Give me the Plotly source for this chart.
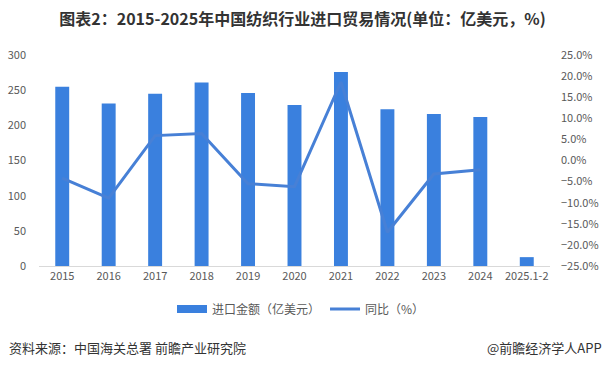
import plotly.graph_objects as go

categories = ["2015", "2016", "2017", "2018", "2019", "2020", "2021", "2022", "2023", "2024", "2025.1-2"]
import_value = [255, 231, 245, 261, 246, 229, 276, 223, 216, 212, 12.6]
yoy_pct = [-4.2, -8.9, 5.9, 6.4, -5.5, -6.2, 18.6, -17.0, -3.2, -2.2, None]
left_ticks = [0, 50, 100, 150, 200, 250, 300]
right_ticks = [-25, -20, -15, -10, -5, 0, 5, 10, 15, 20, 25]

FONT = "Noto Sans CJK SC"
TICK_COLOR = "#595959"
BAR_COLOR = "#3A80DE"
LINE_COLOR = "#4780D6"

L, R, T, B = 39, 55, 55, 100
PW, PH = 605 - L - R, 366 - T - B

def px_x(x):
    return (x - L) / PW

def px_y(y):
    return (366 - B - y) / PH

fig = go.Figure()
fig.add_trace(go.Bar(
    x=categories, y=import_value, name="进口金额（亿美元）",
    marker=dict(color=BAR_COLOR, line=dict(width=0)),
    yaxis="y", showlegend=False,
))
# legend proxy for the bar series (wide rectangle symbol)
fig.add_trace(go.Scatter(
    x=[categories[0]], y=[None], name="进口金额（亿美元）", mode="lines",
    line=dict(color=BAR_COLOR, width=8), yaxis="y", showlegend=True,
))
fig.add_trace(go.Scatter(
    x=categories, y=[v / 100 if v is not None else None for v in yoy_pct],
    name="同比（%）", mode="lines",
    line=dict(color=LINE_COLOR, width=3),
    yaxis="y2",
))

fig.update_layout(
    width=605, height=366,
    paper_bgcolor="white", plot_bgcolor="white",
    margin=dict(l=L, r=R, t=T, b=B, autoexpand=False),
    bargap=0.70,
    showlegend=True,
    font=dict(family=FONT, size=11, color=TICK_COLOR),
    title=dict(
        text="<b>图表2：2015-2025年中国纺织行业进口贸易情况(单位：亿美元，%)</b>",
        x=0.5, xanchor="center", y=1 - 19 / 366, yanchor="middle",
        font=dict(family=FONT, size=16, color="#333333"),
    ),
    xaxis=dict(
        type="category", showgrid=False, showline=True, linecolor="#D9D9D9",
        linewidth=1, ticks="", tickfont=dict(size=11, color=TICK_COLOR),
        automargin=False,
    ),
    yaxis=dict(
        range=[0, 300], tickvals=left_ticks, showgrid=False, zeroline=False,
        showline=False, ticks="", ticklabelstandoff=12,
        tickfont=dict(size=11, color=TICK_COLOR), automargin=False,
    ),
    yaxis2=dict(
        range=[-0.25, 0.25], tickvals=[t / 100 for t in right_ticks],
        tickformat=".1%", overlaying="y", side="right", showgrid=False,
        zeroline=False, showline=False, ticks="", ticklabelstandoff=10,
        tickfont=dict(size=11, color=TICK_COLOR), automargin=False,
    ),
    legend=dict(
        orientation="h", x=px_x(301), xanchor="center", y=px_y(309), yanchor="middle",
        font=dict(size=12, color=TICK_COLOR), bgcolor="rgba(0,0,0,0)",
        tracegroupgap=0,
    ),
    annotations=[
        dict(text="资料来源：中国海关总署 前瞻产业研究院", xref="paper", yref="paper",
             x=px_x(7), y=px_y(347), xanchor="left", yanchor="middle", showarrow=False,
             font=dict(family=FONT, size=13, color="#333333")),
        dict(text="@前瞻经济学人APP", xref="paper", yref="paper",
             x=px_x(604), y=px_y(347), xanchor="right", yanchor="middle", showarrow=False,
             font=dict(family=FONT, size=13, color="#333333")),
    ],
)

fig.write_html(
    "out.html",
    config={"displayModeBar": False},
    post_script="document.body.style.margin='0';document.body.style.padding='0';",
)
